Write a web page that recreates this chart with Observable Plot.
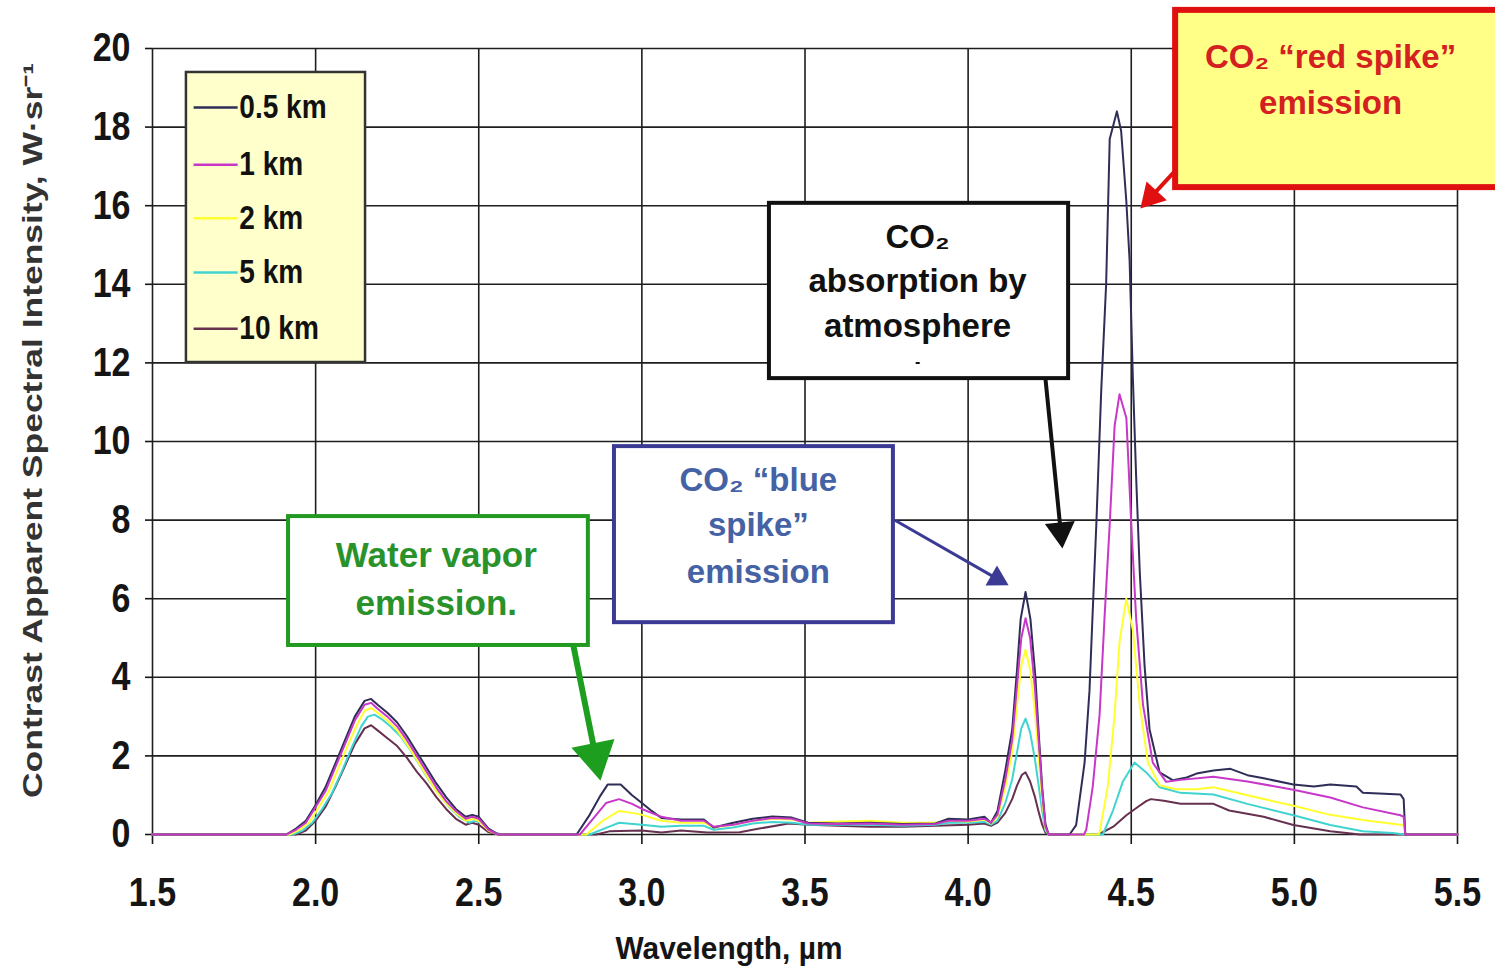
<!DOCTYPE html>
<html><head><meta charset="utf-8">
<script src="https://cdn.jsdelivr.net/npm/d3@7"></script>
<script src="https://cdn.jsdelivr.net/npm/@observablehq/plot@0.6"></script>
<style>html,body{margin:0;padding:0;background:#fff;overflow:hidden;}</style>
</head><body><div id="chart"></div>
<script>
// ---------------- DATA ----------------
const xTicks = [1.5, 2.0, 2.5, 3.0, 3.5, 4.0, 4.5, 5.0, 5.5];
const yTicks = [0, 2, 4, 6, 8, 10, 12, 14, 16, 18, 20];
const seriesNames = ["0.5 km", "1 km", "2 km", "5 km", "10 km"];
const seriesColors = ["#2e2e58", "#c838c8", "#ffff30", "#40d4d0", "#66304f"];

// [wavelength µm, intensity]
const km05 = [[1.50,0],[1.91,0],[1.94,0.15],[1.97,0.35],[2.00,0.75],[2.03,1.2],[2.06,1.8],[2.09,2.4],[2.12,3.0],[2.15,3.4],[2.17,3.45],[2.19,3.3],[2.22,3.1],[2.25,2.85],[2.28,2.5],[2.31,2.1],[2.34,1.7],[2.37,1.3],[2.40,0.95],[2.43,0.65],[2.46,0.45],[2.48,0.5],[2.50,0.45],[2.53,0.15],[2.56,0],[2.80,0],[2.84,0.5],[2.87,0.95],[2.895,1.27],[2.935,1.27],[2.97,1.0],[3.00,0.8],[3.03,0.6],[3.06,0.42],[3.12,0.38],[3.19,0.38],[3.22,0.18],[3.28,0.3],[3.34,0.4],[3.40,0.46],[3.46,0.43],[3.51,0.3],[3.60,0.28],[3.70,0.3],[3.80,0.27],[3.90,0.28],[3.94,0.4],[4.00,0.38],[4.05,0.45],[4.07,0.3],[4.09,0.6],[4.114,1.63],[4.135,2.66],[4.15,4.2],[4.161,5.48],[4.176,6.17],[4.191,5.48],[4.206,4.03],[4.217,2.49],[4.227,1.2],[4.237,0.26],[4.247,0],[4.311,0],[4.331,0.24],[4.357,1.83],[4.372,3.66],[4.382,5.7],[4.393,7.9],[4.408,11.3],[4.423,14.0],[4.434,17.7],[4.456,18.4],[4.469,17.9],[4.485,16.1],[4.495,14.6],[4.505,11.6],[4.515,9.1],[4.526,6.7],[4.541,4.27],[4.556,2.68],[4.587,1.58],[4.628,1.38],[4.67,1.45],[4.70,1.55],[4.752,1.63],[4.804,1.67],[4.856,1.51],[4.906,1.43],[4.997,1.27],[5.06,1.22],[5.11,1.27],[5.19,1.22],[5.21,1.06],[5.325,1.02],[5.335,0.9],[5.34,0],[5.50,0]];
const km1 = [[1.50,0],[1.91,0],[1.94,0.12],[1.97,0.3],[2.00,0.7],[2.03,1.1],[2.06,1.7],[2.09,2.3],[2.12,2.9],[2.15,3.3],[2.17,3.35],[2.19,3.2],[2.22,3.0],[2.25,2.75],[2.28,2.4],[2.31,2.0],[2.34,1.6],[2.37,1.2],[2.40,0.85],[2.43,0.6],[2.46,0.4],[2.48,0.45],[2.50,0.4],[2.53,0.12],[2.56,0],[2.81,0],[2.85,0.4],[2.89,0.8],[2.93,0.9],[2.97,0.78],[3.00,0.65],[3.06,0.45],[3.12,0.35],[3.19,0.35],[3.22,0.2],[3.28,0.25],[3.34,0.35],[3.40,0.42],[3.46,0.4],[3.51,0.28],[3.60,0.27],[3.70,0.28],[3.80,0.25],[3.90,0.27],[3.94,0.35],[4.00,0.35],[4.05,0.4],[4.07,0.3],[4.09,0.5],[4.114,1.4],[4.135,2.4],[4.15,3.8],[4.163,5.0],[4.176,5.5],[4.19,5.0],[4.205,3.7],[4.217,2.3],[4.227,1.1],[4.237,0.2],[4.247,0],[4.355,0],[4.362,0.12],[4.382,1.22],[4.403,3.05],[4.418,5.5],[4.434,7.9],[4.449,10.4],[4.464,11.2],[4.485,10.6],[4.50,7.9],[4.515,5.5],[4.536,3.3],[4.566,1.83],[4.607,1.34],[4.651,1.39],[4.752,1.47],[4.856,1.35],[4.997,1.14],[5.11,0.94],[5.21,0.69],[5.325,0.49],[5.335,0.45],[5.34,0],[5.50,0]];
const km2 = [[1.50,0],[1.92,0],[1.95,0.12],[1.98,0.3],[2.01,0.7],[2.04,1.1],[2.07,1.7],[2.10,2.3],[2.13,2.85],[2.15,3.15],[2.17,3.22],[2.19,3.1],[2.22,2.9],[2.25,2.65],[2.28,2.3],[2.31,1.9],[2.34,1.5],[2.37,1.1],[2.40,0.8],[2.43,0.55],[2.46,0.35],[2.48,0.4],[2.50,0.35],[2.53,0.1],[2.56,0],[2.83,0],[2.88,0.35],[2.93,0.6],[2.97,0.55],[3.00,0.5],[3.06,0.35],[3.12,0.3],[3.19,0.3],[3.22,0.18],[3.28,0.25],[3.34,0.35],[3.40,0.4],[3.46,0.38],[3.51,0.3],[3.60,0.33],[3.70,0.35],[3.80,0.3],[3.90,0.3],[3.94,0.35],[4.00,0.33],[4.05,0.38],[4.07,0.28],[4.09,0.45],[4.114,1.2],[4.135,2.1],[4.15,3.3],[4.163,4.3],[4.176,4.7],[4.19,4.2],[4.205,3.1],[4.217,1.9],[4.227,0.9],[4.237,0.15],[4.247,0],[4.40,0],[4.403,0.06],[4.428,1.22],[4.449,3.05],[4.464,4.9],[4.485,6.0],[4.505,5.2],[4.526,3.3],[4.551,1.83],[4.587,1.25],[4.638,1.15],[4.70,1.15],[4.752,1.2],[4.856,1.0],[4.997,0.73],[5.11,0.5],[5.21,0.37],[5.325,0.25],[5.335,0.22],[5.34,0],[5.50,0]];
const km5 = [[1.50,0],[1.93,0],[1.96,0.1],[1.99,0.3],[2.02,0.65],[2.05,1.05],[2.08,1.6],[2.11,2.2],[2.14,2.75],[2.16,3.0],[2.18,3.05],[2.20,2.95],[2.23,2.75],[2.26,2.5],[2.29,2.15],[2.32,1.75],[2.35,1.35],[2.38,1.0],[2.41,0.7],[2.44,0.45],[2.47,0.3],[2.49,0.35],[2.51,0.28],[2.54,0.08],[2.57,0],[2.84,0],[2.90,0.2],[2.93,0.3],[3.00,0.25],[3.06,0.2],[3.12,0.22],[3.19,0.22],[3.22,0.12],[3.28,0.18],[3.34,0.28],[3.40,0.32],[3.46,0.3],[3.51,0.25],[3.60,0.25],[3.70,0.25],[3.80,0.22],[3.90,0.25],[3.94,0.3],[4.00,0.3],[4.05,0.32],[4.07,0.25],[4.09,0.35],[4.114,0.8],[4.135,1.4],[4.15,2.1],[4.163,2.7],[4.176,2.95],[4.19,2.6],[4.205,1.9],[4.217,1.2],[4.227,0.6],[4.237,0.1],[4.247,0],[4.413,0],[4.444,0.61],[4.474,1.34],[4.51,1.83],[4.546,1.58],[4.587,1.2],[4.651,1.06],[4.752,1.02],[4.856,0.78],[4.997,0.49],[5.11,0.24],[5.21,0.08],[5.30,0.04],[5.34,0],[5.50,0]];
const km10 = [[1.50,0],[1.94,0],[1.97,0.1],[2.00,0.35],[2.03,0.7],[2.06,1.2],[2.09,1.75],[2.12,2.3],[2.15,2.7],[2.17,2.78],[2.19,2.65],[2.22,2.45],[2.25,2.25],[2.28,1.95],[2.31,1.6],[2.34,1.3],[2.37,0.95],[2.40,0.65],[2.43,0.4],[2.46,0.25],[2.48,0.3],[2.50,0.25],[2.53,0.06],[2.56,0],[2.86,0],[2.90,0.08],[3.00,0.1],[3.06,0.05],[3.12,0.1],[3.20,0.05],[3.30,0.06],[3.36,0.15],[3.45,0.28],[3.51,0.25],[3.60,0.22],[3.70,0.2],[3.80,0.2],[3.90,0.22],[4.00,0.25],[4.05,0.28],[4.07,0.22],[4.09,0.3],[4.114,0.55],[4.135,0.9],[4.15,1.25],[4.165,1.52],[4.176,1.58],[4.19,1.35],[4.205,0.95],[4.217,0.55],[4.227,0.25],[4.237,0.05],[4.247,0],[4.40,0],[4.445,0.2],[4.485,0.49],[4.52,0.7],[4.546,0.85],[4.56,0.9],[4.60,0.86],[4.651,0.78],[4.752,0.78],[4.80,0.61],[4.906,0.45],[4.997,0.24],[5.11,0.08],[5.16,0.04],[5.20,0],[5.50,0]];
const seriesData = [km05, km1, km2, km5, km10];

// ---------------- ANNOTATION TEXT ----------------
const xTitle = "Wavelength, µm";
const yTitle = "Contrast Apparent Spectral Intensity, W·sr⁻¹";
const greenLines = ["Water vapor", "emission."];
const blueLines = ["CO₂ “blue", "spike”", "emission"];
const blackLines = ["CO₂", "absorption by", "atmosphere"];
const redLines = ["CO₂ “red spike”", "emission"];

// ---------------- LAYOUT (data-space placement) ----------------
const W = 1495, H = 979, mL = 152, mR = 38, mT = 48, mB = 145;
const sx = (W - mL - mR) / 4, sy = (H - mT - mB) / 20;
const legendBox = {x1: 1.604, x2: 2.153, y1: 12.01, y2: 19.39};
const legendRowY = [18.50, 17.04, 15.68, 14.30, 12.87];
const legendLineX = [1.626, 1.761], legendTextX = 1.766;
const boxes = [
  {x1: 1.917, x2: 2.836, y1: 4.81, y2: 8.09, fill: "#ffffff", stroke: "#229a22", sw: 4},
  {x1: 2.916, x2: 3.771, y1: 5.39, y2: 9.87, fill: "#ffffff", stroke: "#3b3b95", sw: 4},
  {x1: 3.391, x2: 4.308, y1: 11.60, y2: 16.06, fill: "#ffffff", stroke: "#111111", sw: 4},
  {x1: 4.636, x2: 5.65, y1: 16.46, y2: 20.97, fill: "#ffff88", stroke: "#e01010", sw: 6}
];
const texts = [
  {lines: greenLines, x: 2.370, ys: [7.10, 5.88], fill: "#2a922a", size: 35},
  {lines: blueLines, x: 3.357, ys: [9.01, 7.86, 6.67], fill: "#4562a5", size: 33},
  {lines: blackLines, x: 3.845, ys: [15.19, 14.07, 12.93], fill: "#111111", size: 33},
  {lines: redLines, x: 5.111, ys: [19.77, 18.60], fill: "#d42020", size: 33}
];
const dashMark = {x: 3.845, y: 12.02};
const arrows = [
  {x1: 2.790, y1: 4.81, x2: 2.873, y2: 1.37, stroke: "#1e9e1e", sw: 6, head: 38},
  {x1: 3.777, y1: 7.99, x2: 4.124, y2: 6.34, stroke: "#3b3b95", sw: 3, head: 20},
  {x1: 4.237, y1: 11.60, x2: 4.289, y2: 7.28, stroke: "#111111", sw: 4, head: 26},
  {x1: 4.636, y1: 16.90, x2: 4.528, y2: 15.93, stroke: "#e01010", sw: 4, head: 24}
];

function arrowMarks(a) {
  const dxs = (a.x2 - a.x1) * sx, dys = -(a.y2 - a.y1) * sy;
  const len = Math.hypot(dxs, dys), ux = dxs / len, uy = dys / len;
  const k = a.head / 3;
  const r = k * Math.sqrt(3 * Math.sqrt(3) / Math.PI);
  const f = (len - a.head * 0.8) / len;
  const rot = Math.atan2(ux, -uy) * 180 / Math.PI;
  return [
    Plot.link([a], {x1: "x1", y1: "y1", x2: d => d.x1 + (d.x2 - d.x1) * f, y2: d => d.y1 + (d.y2 - d.y1) * f,
      stroke: a.stroke, strokeWidth: a.sw, clip: false}),
    Plot.dot([a], {x: "x2", y: "y2", symbol: "triangle", r, rotate: rot, fill: a.stroke, stroke: "none",
      dx: -ux * 2 * k, dy: -uy * 2 * k})
  ];
}

const legendRows = seriesNames.map((n, i) => ({name: n, color: seriesColors[i], y: legendRowY[i]}));
const drawOrder = [4, 3, 2, 0, 1];
const xLabelStr = xTicks.map(d => d.toFixed(1));
const yLabelStr = yTicks.map(d => String(d));

const plot = Plot.plot({
  width: W, height: H,
  marginLeft: mL, marginRight: mR, marginTop: mT, marginBottom: mB,
  style: {fontFamily: "'Liberation Sans', Arial, Helvetica, sans-serif", background: "#ffffff", color: "#151515", overflow: "visible"},
  x: {domain: [1.5, 5.5], label: null},
  y: {domain: [0, 20], label: null},
  marks: [
    Plot.ruleX(xTicks, {stroke: "#1e1e1e", strokeWidth: 1.6}),
    Plot.ruleY(yTicks, {stroke: "#1e1e1e", strokeWidth: 1.6}),
    Plot.axisX({ticks: xTicks, tickFormat: d => d.toFixed(1), tickSize: 10, tickPadding: 33, fontSize: 40, fontWeight: "bold",
      label: null, strokeWidth: 1.6}),
    Plot.axisY({ticks: yTicks, tickFormat: d => String(d), tickSize: 7, tickPadding: 15, fontSize: 40, fontWeight: "bold",
      label: null, strokeWidth: 1.6}),
    ...drawOrder.map(i => Plot.line(seriesData[i], {x: d => d[0], y: d => d[1], stroke: seriesColors[i], strokeWidth: 2})),
    // legend
    Plot.rect([legendBox], {x1: "x1", x2: "x2", y1: "y1", y2: "y2", fill: "#ffffcc", stroke: "#333333", strokeWidth: 2.5}),
    Plot.link(legendRows, {x1: legendLineX[0], x2: legendLineX[1], y1: "y", y2: "y", stroke: "color", strokeWidth: 2.5}),
    Plot.text(legendRows, {x: legendTextX, y: "y", text: "name", textAnchor: "start", fontSize: 33, fontWeight: "bold", fill: "#111"}),
    // annotation boxes
    ...boxes.map(b => Plot.rect([b], {x1: "x1", x2: "x2", y1: "y1", y2: "y2", fill: b.fill, stroke: b.stroke, strokeWidth: b.sw, clip: false})),
    ...texts.map(t => Plot.text(t.lines.map((s, j) => ({s, y: t.ys[j]})), {x: t.x, y: "y", text: "s", fill: t.fill,
      fontSize: t.size, fontWeight: "bold", textAnchor: "middle"})),
    Plot.text([dashMark], {x: "x", y: "y", text: d => "-", fontSize: 16, fontWeight: "bold", fill: "#111"}),
    ...arrows.flatMap(arrowMarks),
    // axis titles
    Plot.text([xTitle], {frameAnchor: "bottom", dx: -76, dy: 124, text: d => d, textAnchor: "middle", fontSize: 32, fontWeight: "bold", fill: "#151515"}),
    Plot.text([yTitle], {frameAnchor: "left", dx: -119, dy: -11, rotate: -90, text: d => d, textAnchor: "middle", fontSize: 27, fontWeight: "bold", fill: "#333333"})
  ]
});
document.getElementById("chart").appendChild(plot);

// Reference image is vertically stretched: condense chart text horizontally
function squeeze(t, len) {
  t.setAttribute("textLength", len);
  t.setAttribute("lengthAdjust", "spacingAndGlyphs");
}
plot.querySelectorAll("text").forEach(t => {
  const s = t.textContent;
  if (xLabelStr.includes(s) || yLabelStr.includes(s) || seriesNames.includes(s)) {
    squeeze(t, t.getComputedTextLength() * 0.85);
  } else if (s === xTitle) {
    squeeze(t, 227);
  } else if (s === yTitle) {
    squeeze(t, 735);
  }
});
</script></body></html>
